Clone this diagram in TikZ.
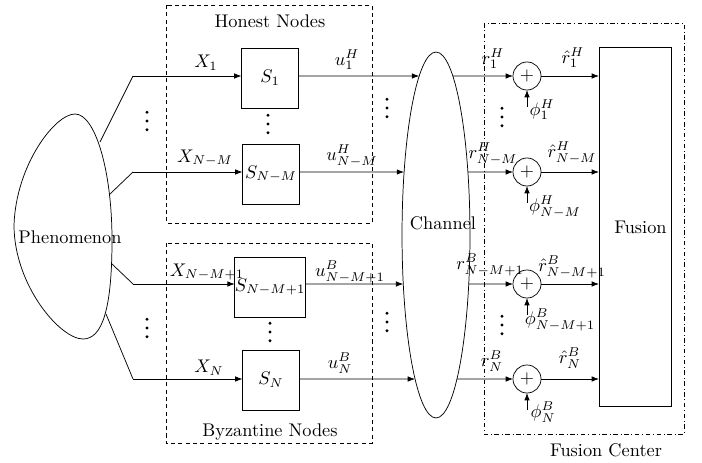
\documentclass[tikz,border=0pt]{standalone}
\usetikzlibrary{arrows.meta,shapes.geometric,intersections}
\begin{document}
\begin{tikzpicture}[x=0.546pt,y=-0.546pt,
  >={Latex[length=4pt,width=3pt]},
  sbox/.style={draw, minimum width=31.1pt, minimum height=32.8pt, inner sep=0pt, outer sep=0pt},
  adder/.style={draw, circle, minimum size=15.3pt, inner sep=0pt, outer sep=0pt},
  vdot/.style={circle, fill, inner sep=0pt, minimum size=1.8pt},
  lbl/.style={inner sep=0pt},
  grp/.style={dash pattern=on 2.2pt off 1.8pt},
  fcgrp/.style={dash pattern=on 2.5pt off 1.5pt on 0.4pt off 1.5pt},
  vdts/.pic={\node[vdot] at (0,-8.7) {}; \node[vdot] at (0,0) {}; \node[vdot] at (0,8.7) {};}
]
\useasboundingbox (0,0) rectangle (702,462);

% group boxes
\draw[grp] (166,5) rectangle (372,223);
\node[lbl] (hlab) at (270,21) {Honest Nodes};
\draw[grp] (166,243) rectangle (372,443);
\node[lbl] (blab) at (270,432) {Byzantine Nodes};
\draw[fcgrp] (484,23) rectangle (684,434);
\node[lbl] (fclab) at (606,450) {Fusion Center};

% phenomenon
\draw (75,114) .. controls (95,114) and (112,170) .. (112,240)
  .. controls (112,310) and (102,339) .. (83,339)
  .. controls (60,339) and (14,285) .. (14,225)
  .. controls (16,165) and (55,114) .. (75,114) -- cycle;
\node[lbl] (phen) at (70,237) {Phenomenon};
\coordinate (p1) at (100,142);
\coordinate (p2) at (110,194);
\coordinate (p3) at (112,264);
\coordinate (p4) at (106,314);
\coordinate (b1) at (133,76);
\coordinate (b2) at (133,172);
\coordinate (b3) at (133,284);
\coordinate (b4) at (133,379);

% sensors
\node[sbox] (S1) at (270,78) {$S_1$};
\node[sbox] (S2) at (271,174) {$S_{N-M}$};
\node[sbox] (S3) at (270,287) {$S_{N-M+1}$};
\node[sbox] (S4) at (271,380) {$S_N$};

% channel
\node[ellipse, draw, name path=ch, minimum width=37.1pt, minimum height=199.8pt, inner sep=0pt, outer sep=0pt] (chan) at (436,235) {};
\node[lbl] (chlab) at (443,223) {Channel};
\path[name path=h1] (b1) -- ++(500,0);
\path[name path=h2] (b2) -- ++(500,0);
\path[name path=h3] (b3) -- ++(500,0);
\path[name path=h4] (b4) -- ++(500,0);
\path[name intersections={of=ch and h1, sort by=h1, by={L1,R1}}];
\path[name intersections={of=ch and h2, sort by=h2, by={L2,R2}}];
\path[name intersections={of=ch and h3, sort by=h3, by={L3,R3}}];
\path[name intersections={of=ch and h4, sort by=h4, by={L4,R4}}];

% adders
\node[adder] (c1) at (527,76) {$+$};
\node[adder] (c2) at (527,172) {$+$};
\node[adder] (c3) at (527,284) {$+$};
\node[adder] (c4) at (527,379) {$+$};

% fusion
\node[draw, minimum width=39.3pt, minimum height=196pt, inner sep=0pt, outer sep=0pt] (fus) at (635,227) {\hspace*{6pt}Fusion};

% phenomenon to sensors
\draw (p1) -- (b1); \draw[->] (b1) -- (b1 -| S1.west);
\draw (p2) -- (b2); \draw[->] (b2) -- (b2 -| S2.west);
\draw (p3) -- (b3); \draw[->] (b3) -- (b3 -| S3.west);
\draw (p4) -- (b4); \draw[->] (b4) -- (b4 -| S4.west);

% sensors to channel
\draw[->] (b1 -| S1.east) -- (L1);
\draw[->] (b2 -| S2.east) -- (L2);
\draw[->] (b3 -| S3.east) -- (L3);
\draw[->] (b4 -| S4.east) -- (L4);

% channel to adders
\draw[->] (R1) -- (c1.west);
\draw[->] (R2) -- (c2.west);
\draw[->] (R3) -- (c3.west);
\draw[->] (R4) -- (c4.west);

% adders to fusion
\draw[->] (c1.east) -- (c1 -| fus.west);
\draw[->] (c2.east) -- (c2 -| fus.west);
\draw[->] (c3.east) -- (c3 -| fus.west);
\draw[->] (c4.east) -- (c4 -| fus.west);

% noise inputs
\draw[<-] (c1.south) -- ++(0,17);
\draw[<-] (c2.south) -- ++(0,17);
\draw[<-] (c3.south) -- ++(0,17);
\draw[<-] (c4.south) -- ++(0,17);

% labels
\node[lbl] at (206,63) {$X_1$};
\node[lbl] at (205,158) {$X_{N-M}$};
\node[lbl] at (207,272) {$X_{N-M+1}$};
\node[lbl] at (209,368) {$X_N$};
\node[lbl] at (347,60) {$u_1^H$};
\node[lbl] at (352,156) {$u_{N-M}^H$};
\node[lbl] at (350,272) {$u_{N-M+1}^B$};
\node[lbl] at (340,363) {$u_N^B$};
\node[lbl] at (493,59) {$r_1^H$};
\node[lbl] at (493,154) {$r_{N-M}^H$};
\node[lbl] at (490,265) {$r_{N-M+1}^B$};
\node[lbl] at (492,361) {$r_N^B$};
\node[lbl] at (573,58) {$\hat{r}_1^H$};
\node[lbl] at (572,153) {$\hat{r}_{N-M}^H$};
\node[lbl] at (572,267) {$\hat{r}_{N-M+1}^B$};
\node[lbl] at (570,358) {$\hat{r}_N^B$};
\node[lbl] at (542,110) {$\phi_1^H$};
\node[lbl] at (555,207) {$\phi_{N-M}^H$};
\node[lbl] at (560,320) {$\phi_{N-M+1}^B$};
\node[lbl] at (543,412) {$\phi_N^B$};

% vdots
\pic at (147,121) {vdts};
\pic at (147,328) {vdts};
\pic at (268,124) {vdts};
\pic at (270,332) {vdts};
\pic at (387,108) {vdts};
\pic at (387,322) {vdts};
\pic at (502,117) {vdts};
\pic at (502,325) {vdts};
\end{tikzpicture}
\end{document}
